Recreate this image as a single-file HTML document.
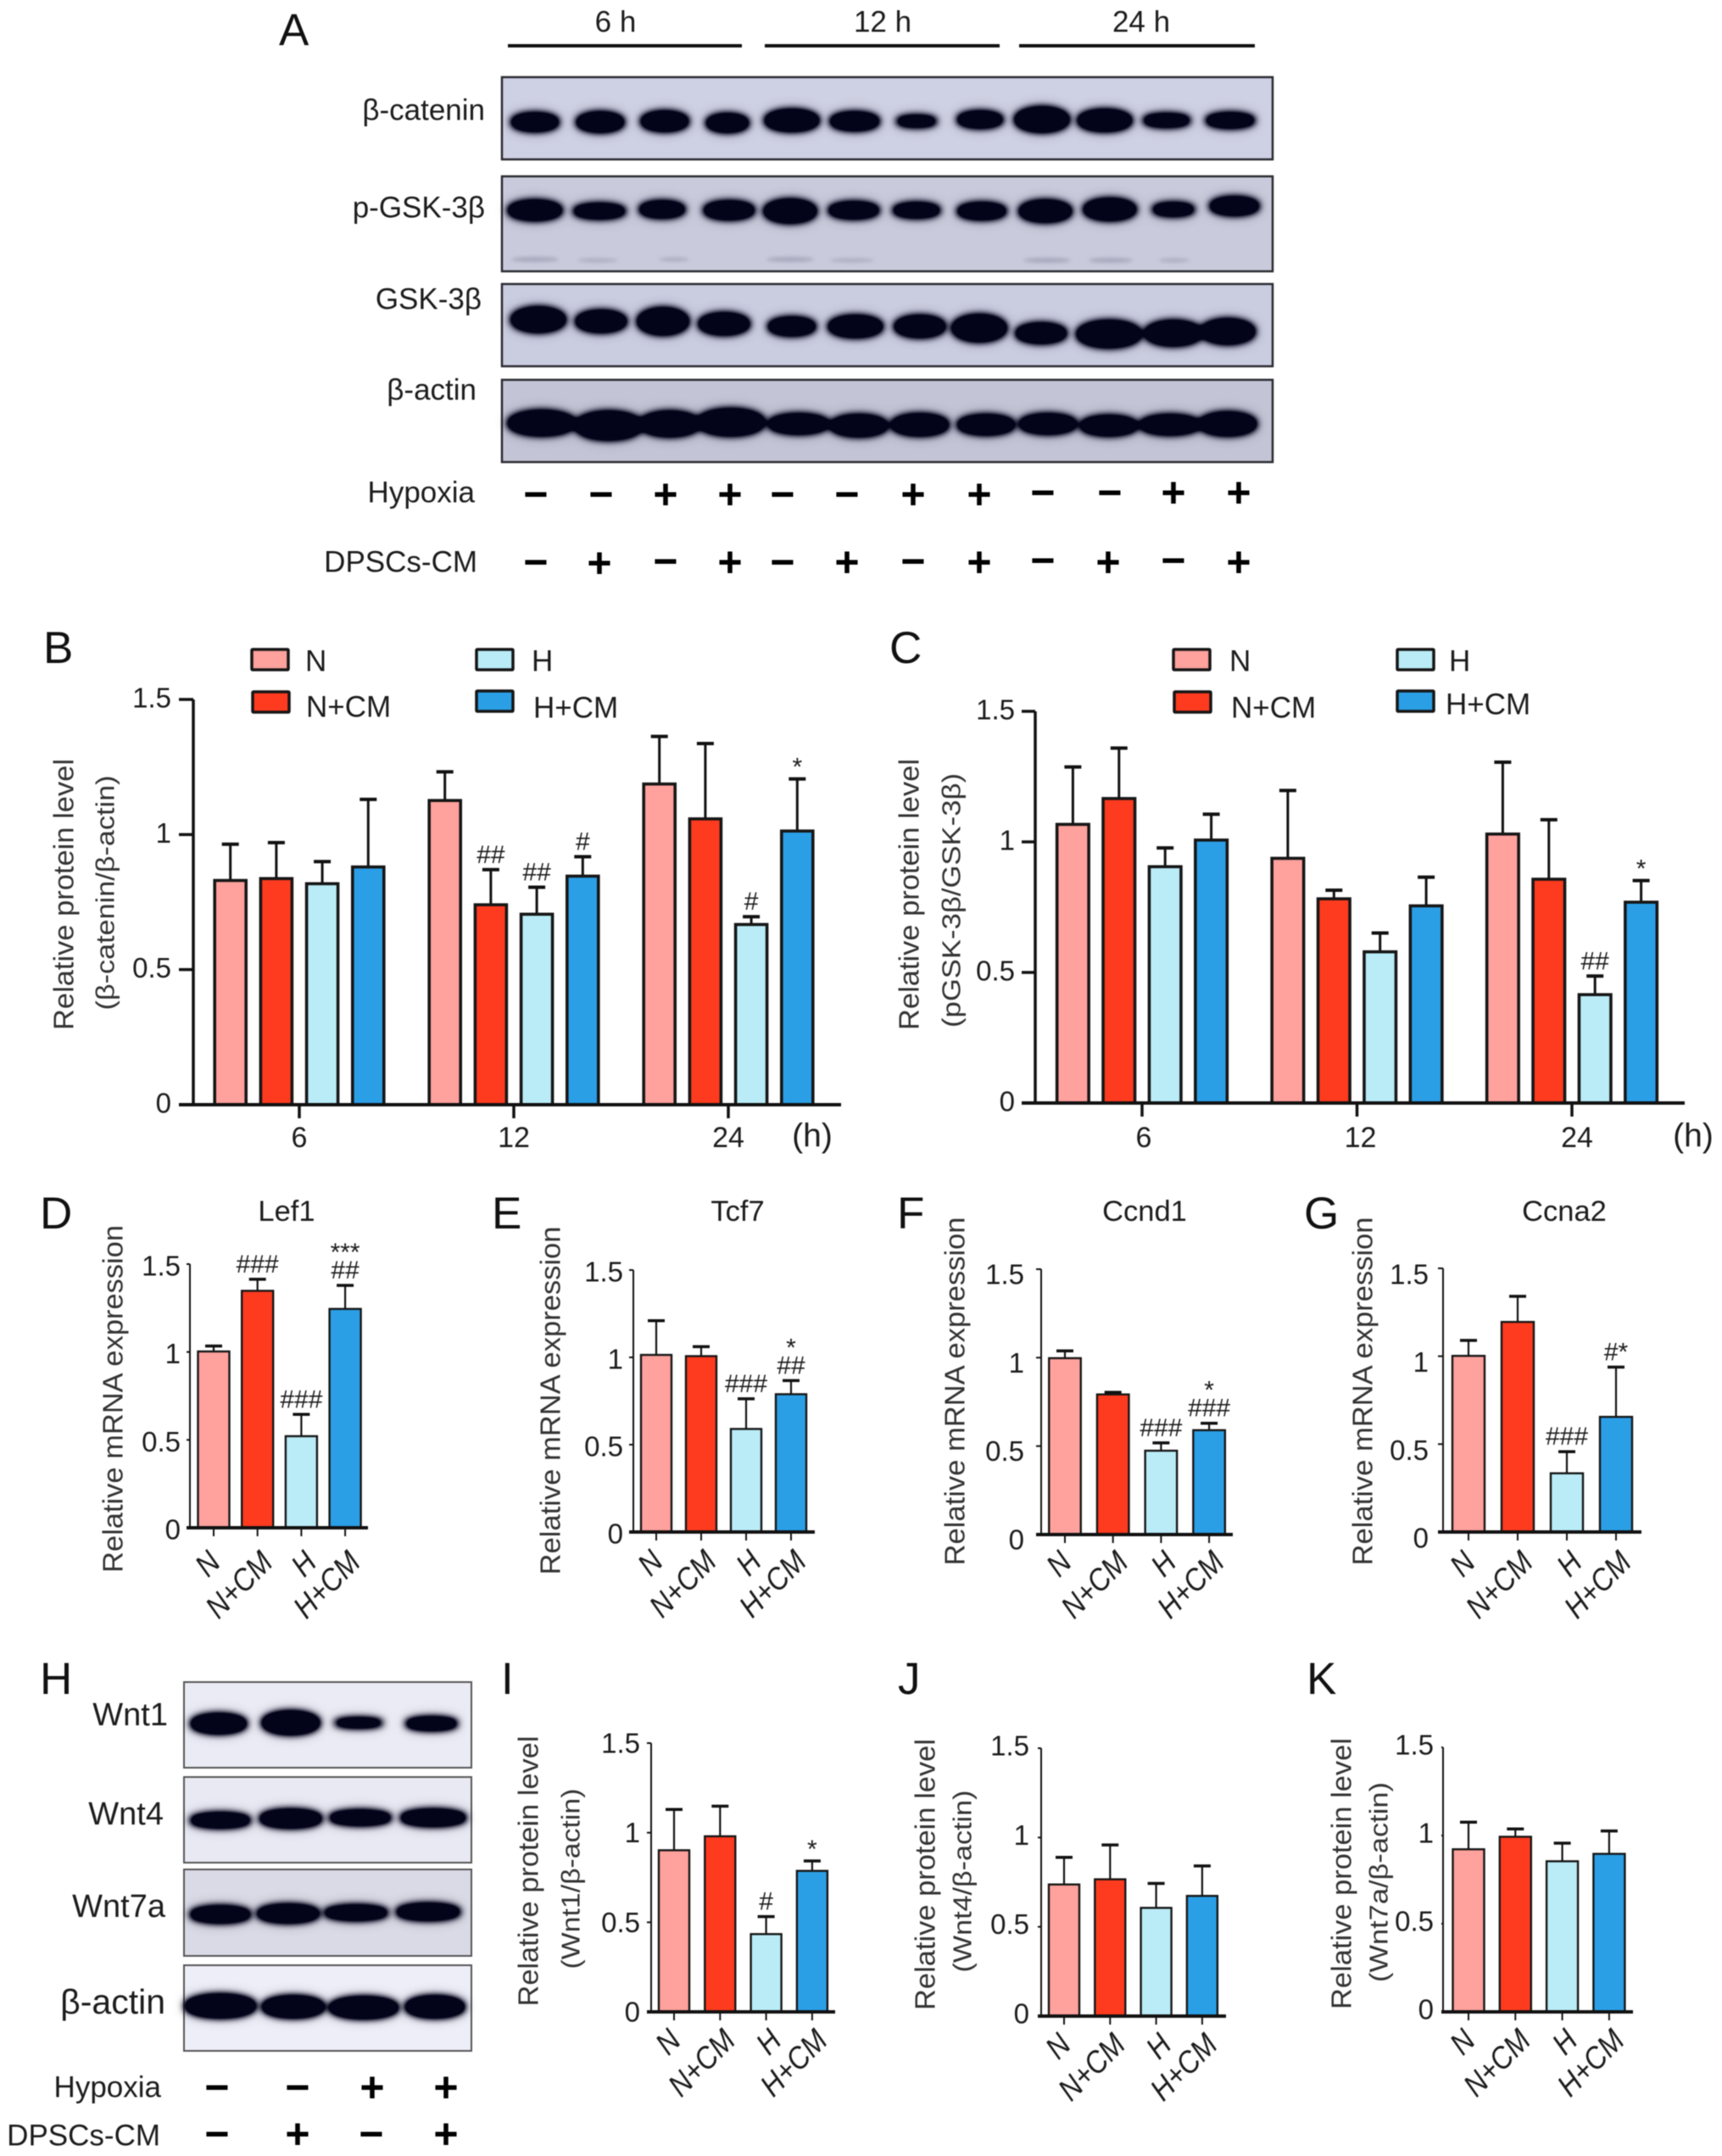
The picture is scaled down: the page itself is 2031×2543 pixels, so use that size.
<!DOCTYPE html>
<html lang="en">
<head>
<meta charset="utf-8">
<title>Figure: Wnt pathway western blots and bar charts</title>
<style>
html,body{margin:0;padding:0;background:#fff;}
svg{display:block;filter:blur(.55px);}
text{font-family:"Liberation Sans",sans-serif;fill:#1c1c1c;}
.lbl{font-size:35px;text-anchor:end;dominant-baseline:central;}
.sym{font-size:50px;font-weight:bold;text-anchor:middle;dominant-baseline:central;fill:#000;}
.letter{font-size:53px;fill:#111;}
.time{font-size:35px;text-anchor:middle;dominant-baseline:central;}
</style>
</head>
<body>
<svg id="figure" xmlns="http://www.w3.org/2000/svg" width="2031" height="2543" viewBox="0 0 2031 2543">
<defs>
<filter id="bandBlur" x="-30%" y="-100%" width="160%" height="300%" color-interpolation-filters="sRGB">
<feGaussianBlur in="SourceGraphic" stdDeviation="8" result="h"/>
<feComponentTransfer in="h" result="halo"><feFuncA type="linear" slope=".5"/></feComponentTransfer>
<feGaussianBlur in="SourceGraphic" stdDeviation="4.5" result="b"/>
<feComponentTransfer in="b" result="core"><feFuncA type="linear" slope="2.6"/></feComponentTransfer>
<feMerge><feMergeNode in="halo"/><feMergeNode in="core"/></feMerge>
</filter>
<filter id="softBlur" x="-30%" y="-100%" width="160%" height="300%"><feGaussianBlur stdDeviation="2"/></filter>
</defs>
<rect width="2031" height="2543" fill="#fff"/>

<text class="letter" x="329" y="53">A</text>
<text class="time" x="726" y="26">6 h</text>
<text class="time" x="1041" y="26">12 h</text>
<text class="time" x="1346" y="26">24 h</text>
<rect x="599" y="52" width="276" height="4" fill="#111"/>
<rect x="902" y="52" width="277" height="4" fill="#111"/>
<rect x="1202" y="52" width="278" height="4" fill="#111"/>

<text class="lbl" x="572" y="130">β-catenin</text>
<text class="lbl" x="572" y="245">p-GSK-3β</text>
<text class="lbl" x="568" y="353">GSK-3β</text>
<text class="lbl" x="562" y="460">β-actin</text>

<g>
<rect x="592" y="91" width="909" height="97" fill="#ced0e3" stroke="#2a2a30" stroke-width="2.5"/>
<g fill="#03031a" filter="url(#bandBlur)">
<ellipse cx="631" cy="144" rx="28" ry="10"/>
<ellipse cx="708" cy="144" rx="28" ry="11"/>
<ellipse cx="784" cy="143" rx="28" ry="11"/>
<ellipse cx="858" cy="145" rx="25" ry="10"/>
<ellipse cx="934" cy="142" rx="32" ry="12"/>
<ellipse cx="1008" cy="143" rx="29" ry="10"/>
<ellipse cx="1081" cy="143" rx="24" ry="6"/>
<ellipse cx="1156" cy="141" rx="27" ry="9"/>
<ellipse cx="1229" cy="141" rx="32" ry="14"/>
<ellipse cx="1303" cy="142" rx="32" ry="12"/>
<ellipse cx="1376" cy="142" rx="28" ry="7"/>
<ellipse cx="1451" cy="142" rx="29" ry="8"/>
</g>
</g>

<g>
<rect x="592" y="208" width="909" height="112" fill="#c9cbdc" stroke="#2a2a30" stroke-width="2.5"/>
<g fill="#8f91a8" opacity=".6" filter="url(#softBlur)">
<ellipse cx="631" cy="306" rx="28" ry="3"/>
<ellipse cx="705" cy="307" rx="24" ry="2"/>
<ellipse cx="795" cy="306" rx="18" ry="2"/>
<ellipse cx="932" cy="306" rx="28" ry="3"/>
<ellipse cx="1005" cy="307" rx="26" ry="2"/>
<ellipse cx="1235" cy="307" rx="28" ry="3"/>
<ellipse cx="1310" cy="307" rx="26" ry="3"/>
<ellipse cx="1385" cy="307" rx="18" ry="2"/>
</g>
<g fill="#03031a" filter="url(#bandBlur)">
<ellipse cx="631" cy="248" rx="32" ry="11"/>
<ellipse cx="707" cy="249" rx="31" ry="8"/>
<ellipse cx="781" cy="247" rx="27" ry="9"/>
<ellipse cx="860" cy="248" rx="30" ry="10"/>
<ellipse cx="932" cy="249" rx="31" ry="13"/>
<ellipse cx="1007" cy="248" rx="30" ry="9"/>
<ellipse cx="1081" cy="248" rx="28" ry="8"/>
<ellipse cx="1158" cy="249" rx="29" ry="9"/>
<ellipse cx="1233" cy="249" rx="31" ry="12"/>
<ellipse cx="1309" cy="247" rx="31" ry="12"/>
<ellipse cx="1384" cy="247" rx="25" ry="7"/>
<ellipse cx="1456" cy="243" rx="29" ry="10"/>
</g>
</g>

<g>
<rect x="592" y="335" width="909" height="97" fill="#cacce0" stroke="#2a2a30" stroke-width="2.5"/>
<g fill="#03031a" filter="url(#bandBlur)">
<ellipse cx="635" cy="377" rx="32" ry="14"/>
<ellipse cx="709" cy="379" rx="30" ry="12"/>
<ellipse cx="782" cy="379" rx="30" ry="15"/>
<ellipse cx="854" cy="382" rx="30" ry="12"/>
<ellipse cx="934" cy="385" rx="28" ry="10"/>
<ellipse cx="1009" cy="385" rx="32" ry="12"/>
<ellipse cx="1085" cy="385" rx="30" ry="12"/>
<ellipse cx="1155" cy="387" rx="32" ry="15"/>
<ellipse cx="1228" cy="393" rx="30" ry="11"/>
<ellipse cx="1308" cy="394" rx="38" ry="15"/>
<ellipse cx="1384" cy="393" rx="34" ry="14"/>
<ellipse cx="1448" cy="391" rx="32" ry="14"/>
</g>
</g>

<g>
<rect x="592" y="448" width="909" height="97" fill="#c3c5d6" stroke="#2a2a30" stroke-width="2.5"/>
<g fill="#03031a" filter="url(#bandBlur)">
<ellipse cx="639" cy="499" rx="40" ry="14"/>
<ellipse cx="718" cy="502" rx="40" ry="16"/>
<ellipse cx="790" cy="500" rx="36" ry="14"/>
<ellipse cx="862" cy="498" rx="40" ry="15"/>
<ellipse cx="942" cy="500" rx="36" ry="11"/>
<ellipse cx="1013" cy="502" rx="34" ry="12"/>
<ellipse cx="1085" cy="501" rx="34" ry="12"/>
<ellipse cx="1163" cy="501" rx="34" ry="11"/>
<ellipse cx="1236" cy="500" rx="34" ry="11"/>
<ellipse cx="1308" cy="502" rx="34" ry="11"/>
<ellipse cx="1380" cy="501" rx="36" ry="11"/>
<ellipse cx="1448" cy="500" rx="34" ry="13"/>
</g>
</g>

<text class="lbl" x="560" y="581">Hypoxia</text>
<text class="lbl" x="563" y="663">DPSCs-CM</text>
<g>
<text class="sym" x="632" y="583">−</text>
<text class="sym" x="709" y="583">−</text>
<text class="sym" x="785" y="583">+</text>
<text class="sym" x="861" y="583">+</text>
<text class="sym" x="923" y="583">−</text>
<text class="sym" x="999" y="583">−</text>
<text class="sym" x="1077" y="583">+</text>
<text class="sym" x="1155" y="583">+</text>
<text class="sym" x="1230" y="581">−</text>
<text class="sym" x="1309" y="581">−</text>
<text class="sym" x="1384" y="581">+</text>
<text class="sym" x="1461" y="581">+</text>
</g>
<g>
<text class="sym" x="632" y="663">−</text>
<text class="sym" x="707" y="664">+</text>
<text class="sym" x="785" y="662">−</text>
<text class="sym" x="861" y="663">+</text>
<text class="sym" x="923" y="663">−</text>
<text class="sym" x="999" y="663">+</text>
<text class="sym" x="1077" y="662">−</text>
<text class="sym" x="1155" y="663">+</text>
<text class="sym" x="1230" y="661">−</text>
<text class="sym" x="1307" y="663">+</text>
<text class="sym" x="1384" y="661">−</text>
<text class="sym" x="1461" y="663">+</text>
</g>

<text class="letter" x="47" y="1998">H</text>
<text class="lbl" style="font-size:38px" x="198" y="2023">Wnt1</text>
<text class="lbl" style="font-size:38px" x="193" y="2140">Wnt4</text>
<text class="lbl" style="font-size:38px" x="195" y="2249">Wnt7a</text>
<text class="lbl" style="font-size:41px" x="195" y="2361">β-actin</text>

<g>
<rect x="217" y="1984" width="339" height="101" fill="#ebebf5" stroke="#555" stroke-width="2"/>
<g fill="#03031a" filter="url(#bandBlur)">
<ellipse cx="258" cy="2033" rx="33" ry="11"/>
<ellipse cx="343" cy="2032" rx="34" ry="13"/>
<ellipse cx="423" cy="2032" rx="29" ry="5"/>
<ellipse cx="509" cy="2033" rx="31" ry="7"/>
</g>
</g>
<g>
<rect x="217" y="2096" width="339" height="101" fill="#e9e9f4" stroke="#555" stroke-width="2"/>
<g fill="#03031a" filter="url(#bandBlur)">
<ellipse cx="260" cy="2147" rx="36" ry="8"/>
<ellipse cx="343" cy="2145" rx="37" ry="10"/>
<ellipse cx="425" cy="2144" rx="37" ry="8"/>
<ellipse cx="511" cy="2144" rx="39" ry="9"/>
</g>
</g>
<g>
<rect x="217" y="2205" width="339" height="102" fill="#dadae6" stroke="#555" stroke-width="2"/>
<g fill="#03031a" filter="url(#bandBlur)">
<ellipse cx="260" cy="2258" rx="36" ry="9"/>
<ellipse cx="340" cy="2257" rx="37" ry="10"/>
<ellipse cx="420" cy="2256" rx="38" ry="8"/>
<ellipse cx="505" cy="2255" rx="38" ry="9"/>
</g>
</g>
<g>
<rect x="217" y="2318" width="339" height="101" fill="#eeeef8" stroke="#555" stroke-width="2"/>
<g fill="#03031a" filter="url(#bandBlur)">
<ellipse cx="260" cy="2366" rx="42" ry="13"/>
<ellipse cx="346" cy="2367" rx="37" ry="12"/>
<ellipse cx="429" cy="2368" rx="41" ry="12"/>
<ellipse cx="513" cy="2367" rx="35" ry="12"/>
</g>
</g>

<text class="lbl" x="190" y="2462">Hypoxia</text>
<text class="lbl" x="189" y="2519">DPSCs-CM</text>
<g>
<text class="sym" x="256" y="2462">−</text>
<text class="sym" x="351" y="2462">−</text>
<text class="sym" x="439" y="2462">+</text>
<text class="sym" x="526" y="2462">+</text>
</g>
<g>
<text class="sym" x="256" y="2517">−</text>
<text class="sym" x="351" y="2517">+</text>
<text class="sym" x="438" y="2517">−</text>
<text class="sym" x="526" y="2517">+</text>
</g>

<g id="charts"></g>
</svg>
<script>
/* shared categories and ticks */
const timeCategories = ['6', '12', '24'];
const seriesNames = ['N', 'N+CM', 'H', 'H+CM'];
const yTickValues = [0, 0.5, 1, 1.5];
const yTickLabels = ['0', '0.5', '1', '1.5'];
const seriesColors = ['#ffa19c', '#ff3b1f', '#b9ecf7', '#2b9fe6'];

/* panel B: N, N+CM, H, H+CM at 6, 12, 24 h */
const bMeans = [0.83, 0.837, 0.818, 0.88, 1.126, 0.74, 0.705, 0.846, 1.187, 1.058, 0.667, 1.013];
const bErrorTops = [0.964, 0.97, 0.90, 1.13, 1.232, 0.87, 0.805, 0.918, 1.363, 1.337, 0.696, 1.206];
const bMarks = [[], [], [], [], [], ['##'], ['##'], ['#'], [], [], ['#'], ['*']];

/* panel C */
const cMeans = [1.067, 1.166, 0.905, 1.007, 0.937, 0.782, 0.579, 0.755, 1.03, 0.857, 0.415, 0.769];
const cErrorTops = [1.287, 1.359, 0.977, 1.106, 1.197, 0.815, 0.651, 0.865, 1.305, 1.085, 0.486, 0.852];
const cMarks = [[], [], [], [], [], [], [], [], [], [], ['##'], ['*']];

/* panels D-G */
const dMeans = [1.003, 1.348, 0.521, 1.245];
const dErrorTops = [1.034, 1.414, 0.645, 1.379];
const dMarks = [[], ['###'], ['###'], ['##', '***']];
const eMeans = [1.014, 1.007, 0.59, 0.789];
const eErrorTops = [1.21, 1.061, 0.763, 0.867];
const eMarks = [[], [], ['###'], ['##', '*']];
const fMeans = [0.997, 0.792, 0.474, 0.59];
const fErrorTops = [1.038, 0.804, 0.518, 0.629];
const fMarks = [[], [], ['###'], ['###', '*']];
const gMeans = [1.002, 1.195, 0.334, 0.655];
const gErrorTops = [1.09, 1.341, 0.457, 0.938];
const gMarks = [[], [], ['###'], ['#*']];

/* panels I-K */
const iMeans = [0.902, 0.98, 0.434, 0.787];
const iErrorTops = [1.13, 1.148, 0.532, 0.842];
const iMarks = [[], [], ['#'], ['*']];
const jMeans = [0.737, 0.766, 0.606, 0.673];
const jErrorTops = [0.889, 0.958, 0.743, 0.841];
const jMarks = [[], [], [], []];
const kMeans = [0.922, 0.993, 0.854, 0.896];
const kErrorTops = [1.076, 1.037, 0.957, 1.026];
const kMarks = [[], [], [], []];

const root = document.getElementById('charts');
const NS = 'http://www.w3.org/2000/svg';

function make(parent, tag, props, content) {
  const el = document.createElementNS(NS, tag);
  for (const k in props) el.setAttribute(k, props[k]);
  if (content !== undefined) el.textContent = content;
  parent.appendChild(el);
  return el;
}

function drawAxes(g, c, yScale) {
  const yAxis = make(g, 'line', {x1: c.axisX, x2: c.axisX, y1: yScale(1.5), y2: yScale(0), stroke: '#111', 'stroke-width': c.thinAxis});
  
  
  const xAxis = make(g, 'line', {x1: c.lineStart, x2: c.lineEnd, y1: yScale(0), y2: yScale(0), stroke: '#111', 'stroke-width': c.baseAxis});
  
  
  yTickValues.forEach(function (v, i) {
    const tick = make(g, 'line', {x1: c.lineStart, x2: c.axisX, y1: yScale(v), y2: yScale(v), stroke: '#111', 'stroke-width': c.thinAxis});
    
    
    const label = make(g, 'text', {x: c.tickRight, y: yScale(v) + (c.labelDy || 0), 'font-size': 33, 'text-anchor': 'end', 'dominant-baseline': 'central'}, yTickLabels[i]);
    
    
  });
}

function drawTitle(g, text, x, y, len, size) {
  const t = make(g, 'text', {x: x, y: y, 'font-size': size, fill: '#333', 'text-anchor': 'middle', 'dominant-baseline': 'central', transform: 'rotate(-90 ' + x + ' ' + y + ')', textLength: len, lengthAdjust: 'spacingAndGlyphs'}, text);
  t.style.fill = '#333';
  
  
}

function drawBar(g, cx, mean, top, marks, color, width, yScale, c) {
  const errLine = make(g, 'line', {x1: cx, x2: cx, y1: yScale(mean), y2: yScale(top), stroke: '#111', 'stroke-width': c.errStroke});
  
  
  const errCap = make(g, 'line', {x1: cx - 10, x2: cx + 10, y1: yScale(top), y2: yScale(top), stroke: '#111', 'stroke-width': c.capStroke});
  
  
  const bar = make(g, 'rect', {x: cx - width / 2, y: yScale(mean), width: width, height: yScale(0) - yScale(mean), fill: color, stroke: '#161616', 'stroke-width': c.barStroke});
  
  
  marks.forEach(function (m, level) {
    const isStar = m.indexOf('*') >= 0 && m.indexOf('#') < 0;
    const baseline = yScale(top) - 18 - level * 25 + (isStar ? 14 : 10);
    const mark = make(g, 'text', {x: cx, y: baseline, 'font-size': 30, 'text-anchor': 'middle'}, m);
    
    
  });
}

function drawLegend(g, swatches) {
  swatches.forEach(function (s, i) {
    const sw = make(g, 'rect', {x: s.x, y: s.y, width: 43, height: 24, fill: seriesColors[i], stroke: '#161616', 'stroke-width': 3.5, rx: 1});
    
    
    const t = make(g, 'text', {x: s.tx, y: s.ty, 'font-size': 35, 'dominant-baseline': 'central'}, seriesNames[i]);
    
    
  });
}

function groupedChart(c, means, tops, marks) {
  const g = make(root, 'g', {});
  
  
  const yScale = function (v) { return c.y0 - v * (c.y0 - c.y15) / 1.5; };
  const groupX = function (gi) { return c.x0 + gi * c.period; };
  const barX = function (gi, si) { return groupX(gi) + (si - 1.5) * c.step; };
  means.forEach(function (m, i) {
    const gi = Math.floor(i / seriesNames.length);
    const si = i % seriesNames.length;
    drawBar(g, barX(gi, si), m, tops[i], marks[i], seriesColors[si], c.barW, yScale, c);
  });
  drawAxes(g, c, yScale);
  timeCategories.forEach(function (cat, i) {
    const tick = make(g, 'line', {x1: groupX(i), x2: groupX(i), y1: yScale(0), y2: yScale(0) + 16, stroke: '#111', 'stroke-width': c.thinAxis});
    
    
    const label = make(g, 'text', {x: groupX(i) + c.labelShift * i + c.labelShift0, y: c.catY, 'font-size': 34, 'text-anchor': 'middle', 'dominant-baseline': 'central'}, cat);
    
    
  });
  const unit = make(g, 'text', {x: c.unitX, y: c.catY - 2, 'font-size': 39, 'text-anchor': 'middle', 'dominant-baseline': 'central'}, '(h)');
  
  
  drawTitle(g, c.title1, c.t1x, c.t1y, 320, 33);
  drawTitle(g, c.title2, c.t2x, c.t2y, c.t2len, 31);
  drawLegend(g, c.legend);
  const letter = make(g, 'text', {x: c.letterX, y: c.letterY, 'class': 'letter'}, c.letter);
  
  
}

function singleChart(c, means, tops, marks) {
  const g = make(root, 'g', {});
  
  
  const yScale = function (v) { return c.y0 - v * (c.y0 - c.y15) / 1.5; };
  const barX = function (i) { return c.x0 + i * c.step; };
  const style = {axisX: c.axisX, lineStart: c.lineStart, lineEnd: c.lineEnd, tickRight: c.tickRight, labelDy: c.labelDy, thinAxis: 2, baseAxis: 4, errStroke: 2.2, capStroke: 3.5, barStroke: 2.4};
  means.forEach(function (m, i) {
    drawBar(g, barX(i), m, tops[i], marks[i], seriesColors[i], c.barW, yScale, style);
  });
  drawAxes(g, style, yScale);
  seriesNames.forEach(function (cat, i) {
    const tick = make(g, 'line', {x1: barX(i), x2: barX(i), y1: yScale(0), y2: yScale(0) + 10, stroke: '#111', 'stroke-width': 2});
    
    
    const lx = barX(i) + (i === 0 ? 10 : 20);
    const ly = yScale(0) + c.catDrop + 2;
    const label = make(g, 'text', {x: lx, y: ly, 'font-size': 37, 'font-style': 'italic', 'text-anchor': 'end', transform: 'rotate(-45 ' + lx + ' ' + ly + ')'}, cat);
    
    
    label.setAttribute('textLength', label.getComputedTextLength() * 0.88);
    label.setAttribute('lengthAdjust', 'spacingAndGlyphs');
  });
  drawTitle(g, c.title1, c.t1x, c.t1y, c.t1len, 33);
  if (c.title2) drawTitle(g, c.title2, c.t2x, c.t2y, c.t2len, 31);
  if (c.heading) {
    const h = make(g, 'text', {x: c.headX, y: 1429, 'font-size': 34.5, 'text-anchor': 'middle', 'dominant-baseline': 'central'}, c.heading);
    
    
  }
  const letter = make(g, 'text', {x: c.letterX, y: c.letterY, 'class': 'letter'}, c.letter);
  
  
}

groupedChart({name: 'chart-b-beta-catenin', letter: 'B', letterX: 51, letterY: 782, x0: 353, period: 253, step: 54.2, barW: 37, y0: 1303, y15: 825,
  axisX: 228, lineStart: 211, lineEnd: 992, tickRight: 202, labelDy: -2, thinAxis: 3.5, baseAxis: 4, errStroke: 3, capStroke: 4, barStroke: 3.6,
  catY: 1342, labelShift: 0, labelShift0: 0, unitX: 958, title1: 'Relative protein level', t1x: 75, t1y: 1055, title2: '(β-catenin/β-actin)', t2x: 124, t2y: 1053, t2len: 277,
  legend: [{x: 297, y: 766, tx: 360, ty: 780}, {x: 298, y: 816, tx: 361, ty: 834}, {x: 562, y: 766, tx: 627, ty: 780}, {x: 562, y: 815, tx: 629, ty: 835}]},
  bMeans, bErrorTops, bMarks);

groupedChart({name: 'chart-c-p-gsk3b', letter: 'C', letterX: 1049, letterY: 782, x0: 1347, period: 253.5, step: 54.4, barW: 37.5, y0: 1301, y15: 839,
  axisX: 1221, lineStart: 1205, lineEnd: 1987, tickRight: 1197, labelDy: -2, thinAxis: 3.5, baseAxis: 4, errStroke: 3, capStroke: 4, barStroke: 3.6,
  catY: 1342, labelShift: 2, labelShift0: 2, unitX: 1997, title1: 'Relative protein level', t1x: 1072, t1y: 1055, title2: '(pGSK-3β/GSK-3β)', t2x: 1122, t2y: 1062, t2len: 300,
  legend: [{x: 1384, y: 766, tx: 1450, ty: 780}, {x: 1385, y: 816, tx: 1452, ty: 835}, {x: 1648, y: 766, tx: 1709, ty: 780}, {x: 1648, y: 815, tx: 1705, ty: 831}]},
  cMeans, cErrorTops, cMarks);

singleChart({name: 'chart-d-lef1', letter: 'D', letterX: 47, letterY: 1449, heading: 'Lef1', headX: 338, x0: 252, step: 51.7, barW: 37, y0: 1802, y15: 1491,
  axisX: 224, lineStart: 220, lineEnd: 434, tickRight: 213, labelDy: 2, catDrop: 41, title1: 'Relative mRNA expression', t1x: 133, t1y: 1650, t1len: 410}, dMeans, dErrorTops, dMarks);

singleChart({name: 'chart-e-tcf7', letter: 'E', letterX: 580, letterY: 1449, heading: 'Tcf7', headX: 870, x0: 774, step: 53, barW: 36, y0: 1807, y15: 1498,
  axisX: 747, lineStart: 742, lineEnd: 961, tickRight: 735, labelDy: 2, catDrop: 35, title1: 'Relative mRNA expression', t1x: 649, t1y: 1652, t1len: 411}, eMeans, eErrorTops, eMarks);

singleChart({name: 'chart-f-ccnd1', letter: 'F', letterX: 1058, letterY: 1449, heading: 'Ccnd1', headX: 1350, x0: 1256, step: 56.7, barW: 37.5, y0: 1810, y15: 1497,
  axisX: 1228, lineStart: 1222, lineEnd: 1454, tickRight: 1208, labelDy: 6, catDrop: 33, title1: 'Relative mRNA expression', t1x: 1126, t1y: 1641, t1len: 411}, fMeans, fErrorTops, fMarks);

singleChart({name: 'chart-g-ccna2', letter: 'G', letterX: 1538, letterY: 1449, heading: 'Ccna2', headX: 1845, x0: 1732, step: 58, barW: 38, y0: 1807, y15: 1496,
  axisX: 1702, lineStart: 1696, lineEnd: 1936, tickRight: 1685, labelDy: 7, catDrop: 36, title1: 'Relative mRNA expression', t1x: 1607, t1y: 1641, t1len: 411}, gMeans, gErrorTops, gMarks);

singleChart({name: 'chart-i-wnt1', letter: 'I', letterX: 591, letterY: 1998, x0: 795, step: 54.3, barW: 36, y0: 2373, y15: 2056,
  axisX: 768, lineStart: 763, lineEnd: 985, tickRight: 755, labelDy: 0, catDrop: 34, title1: 'Relative protein level', t1x: 623, t1y: 2207, t1len: 319, title2: '(Wnt1/β-actin)', t2x: 673, t2y: 2216, t2len: 213}, iMeans, iErrorTops, iMarks);

singleChart({name: 'chart-j-wnt4', letter: 'J', letterX: 1059, letterY: 1998, x0: 1255, step: 54.3, barW: 36, y0: 2378, y15: 2062,
  axisX: 1228, lineStart: 1224, lineEnd: 1446, tickRight: 1214, labelDy: -3, catDrop: 34, title1: 'Relative protein level', t1x: 1091, t1y: 2211, t1len: 320, title2: '(Wnt4/β-actin)', t2x: 1135, t2y: 2219, t2len: 215}, jMeans, jErrorTops, jMarks);

singleChart({name: 'chart-k-wnt7a', letter: 'K', letterX: 1541, letterY: 1998, x0: 1732, step: 55.3, barW: 37, y0: 2373, y15: 2061,
  axisX: 1702, lineStart: 1700, lineEnd: 1926, tickRight: 1691, labelDy: -3, catDrop: 34, title1: 'Relative protein level', t1x: 1582, t1y: 2210, t1len: 320, title2: '(Wnt7a/β-actin)', t2x: 1626, t2y: 2220, t2len: 236}, kMeans, kErrorTops, kMarks);
</script>
</body>
</html>
